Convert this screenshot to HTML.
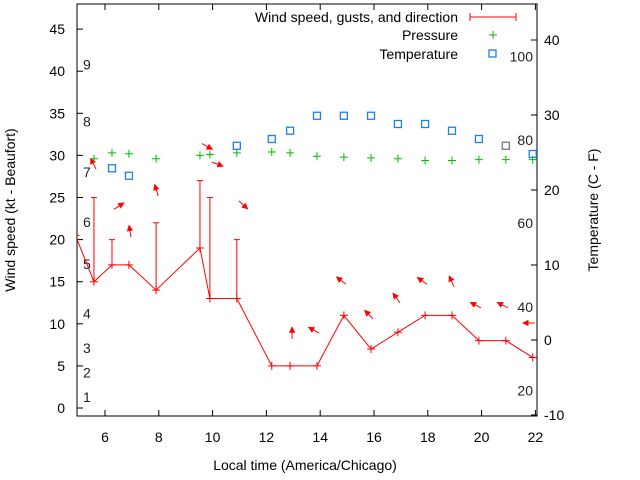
<!DOCTYPE html>
<html><head><meta charset="utf-8"><style>
body{margin:0;background:#fff}
svg{display:block;font-family:"Liberation Sans",sans-serif}
</style></head><body>
<svg id="chart" width="640" height="480" viewBox="0 0 640 480">
<defs><clipPath id="clip"><rect x="77" y="4" width="460" height="412"/></clipPath>
<marker id="ah" viewBox="0 0 10 10" refX="9" refY="5" markerWidth="6.5" markerHeight="6.5" orient="auto"><path d="M0,0L10,5L0,10z" fill="#f00"/></marker></defs>
<g id="axes"></g>
<g id="plot" clip-path="url(#clip)"></g>
<text x="305" y="470" font-size="14" text-anchor="middle" fill="#000">Local time (America/Chicago)</text>
<text transform="translate(15,210) rotate(-90)" font-size="14" text-anchor="middle">Wind speed (kt - Beaufort)</text>
<text transform="translate(598,210) rotate(-90)" font-size="14" text-anchor="middle">Temperature (C - F)</text>
<g font-size="14">
<text x="458" y="22" text-anchor="end">Wind speed, gusts, and direction</text>
<path d="M470,17H516M470,13V21M516,13V21" stroke="#f00" stroke-width="1"/>
<text x="458" y="40" text-anchor="end">Pressure</text>
<path d="M489,35H497M493,31V39" stroke="#0b0"/>
<text x="458" y="59" text-anchor="end">Temperature</text>
<rect x="489" y="50" width="7" height="7" fill="none" stroke="#1e7fe8" stroke-width="1.3"/>
</g>
</svg>
<script>
const hours=[4.9,5.59,6.26,6.89,7.9,9.53,9.9,10.9,12.2,12.88,13.88,14.88,15.89,16.89,17.9,18.9,19.9,20.9,21.9];
const windSpeed=[20.5,15,17,17,14,19,13,13,5,5,5,11,7,9,11,11,8,8,6];
const gustHours=[5.59,6.26,7.9,9.53,9.9,10.9];
const gustValues=[25,20,22,27,25,20];
const pressureHours=[5.59,6.26,6.89,7.9,9.53,9.9,10.9,12.2,12.88,13.88,14.88,15.89,16.89,17.9,18.9,19.9,20.9,21.9];
const pressureValues=[29.6,30.3,30.2,29.6,30.0,30.1,30.3,30.4,30.3,29.9,29.8,29.7,29.6,29.4,29.4,29.5,29.5,29.5];
const tempHours=[6.26,6.89,10.9,12.2,12.88,13.88,14.88,15.89,16.89,17.9,18.9,19.9,20.9,21.9];
const tempValues=[22.9,21.9,25.9,26.8,27.9,29.9,29.9,29.9,28.8,28.8,27.9,26.8,25.9,24.8];
const arrowHours=[5.59,6.26,6.89,7.9,9.53,9.9,10.9,12.88,13.88,14.88,15.89,16.89,17.9,18.9,19.9,20.9,21.9];
const arrowLevel=[28.4,23.6,20.3,25.2,31.4,29.2,24.6,8.2,8.9,14.7,10.6,12.5,14.7,14.4,11.9,11.9,10.1];
const arrowDir=[333,57,351,343,119,110,132,0,299,308,315,324,305,336,297,297,270];
const xTicks=[6,8,10,12,14,16,18,20,22];
const yTicks=[0,5,10,15,20,25,30,35,40,45];
const y2Ticks=[-10,0,10,20,30,40];
const beaufortLabels=["1","2","3","4","5","6","7","8","9"];
const beaufortAt=[1.3,4.2,7.1,11.2,17.1,22.1,28,34,40.8];
const fLabels=["20","40","60","80","100"];
const fAt=[-6.7,4.4,15.6,26.7,37.8];

const X=h=>105+26.9*(h-6);
const Y=v=>408-8.42*v;
const Y2=t=>340-7.5*t;
const NS="http://www.w3.org/2000/svg";
function mk(p,tag,a){const e=document.createElementNS(NS,tag);for(const k in a)e.setAttribute(k,a[k]);p.appendChild(e);return e;}
const axes=document.getElementById('axes'),plot=document.getElementById('plot');
let e=mk(axes,'rect',{x:77,y:4,width:460,height:412,fill:'none',stroke:'#000','stroke-width':1});


xTicks.forEach(h=>{const x=X(h);
 mk(axes,'path',{d:`M${x},416v-6M${x},4v6`,stroke:'#000'});
 e=mk(axes,'text',{x:x,y:442,'font-size':14,'text-anchor':'middle'});e.textContent=h;
 
 });
yTicks.forEach(v=>{const y=Y(v);
 mk(axes,'path',{d:`M77,${y}h6`,stroke:'#000'});
 e=mk(axes,'text',{x:65,y:y+5,'font-size':14,'text-anchor':'end'});e.textContent=v;
 
 });
y2Ticks.forEach(t=>{const y=Y2(t);
 mk(axes,'path',{d:`M537,${y}h-6`,stroke:'#000'});
 e=mk(axes,'text',{x:544,y:y+5,'font-size':14});e.textContent=t;
 
 });
beaufortLabels.forEach((s,i)=>{e=mk(axes,'text',{x:83,y:Y(beaufortAt[i])+5,'font-size':14,fill:'#222'});e.textContent=s;
 
 });
fLabels.forEach((s,i)=>{e=mk(axes,'text',{x:533,y:Y2(fAt[i])+5,'font-size':14,'text-anchor':'end',fill:'#222'});e.textContent=s;
 
 });
e=mk(plot,'polyline',{points:hours.map((h,i)=>X(h)+','+Y(windSpeed[i])).join(' '),fill:'none',stroke:'#f00','stroke-width':1});


hours.forEach((h,i)=>{const x=X(h),y=Y(windSpeed[i]);
 e=mk(plot,'path',{d:`M${x-4},${y}h8M${x},${y-4}v8`,stroke:'#f00'});
 
 });
gustHours.forEach((h,i)=>{const x=X(h),ws=windSpeed[hours.indexOf(h)],y0=Y(ws),y1=Y(gustValues[i]);
 e=mk(plot,'path',{d:`M${x},${y0}V${y1}M${x-3},${y1}h6`,stroke:'#f00'});
 
 });
arrowHours.forEach((h,i)=>{const x=X(h)+2,y=Y(arrowLevel[i]),a=arrowDir[i]*Math.PI/180,L=12;
 e=mk(plot,'line',{x1:x,y1:y,x2:x+L*Math.sin(a),y2:y-L*Math.cos(a),stroke:'#f00','stroke-width':1,'marker-end':'url(#ah)'});
 
 });
pressureHours.forEach((h,i)=>{const x=X(h),y=Y(pressureValues[i]);
 e=mk(plot,'path',{d:`M${x-4},${y}h8M${x},${y-4}v8`,stroke:'#0b0'});
 
 });
tempHours.forEach((h,i)=>{const x=X(h),y=Y2(tempValues[i]);
 e=mk(plot,'rect',{x:x-3.5,y:y-3.5,width:7,height:7,fill:'none',stroke:(h===20.9?'#777':'#1e7fe8'),'stroke-width':1.3});
 
 });
</script>
</body></html>
